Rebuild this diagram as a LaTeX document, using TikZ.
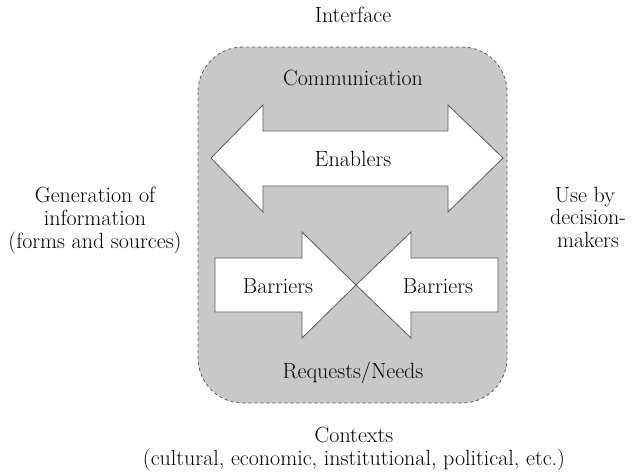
\documentclass[tikz,border=0pt]{standalone}
\usepackage{fontspec}
\definecolor{boxgray}{RGB}{200,200,200}
\definecolor{edgegray}{RGB}{90,90,90}
\begin{document}
\begin{tikzpicture}[x=1pt,y=1pt,
  lbl/.style={font=\fontsize{22}{23}\selectfont, inner sep=0pt, anchor=base, text=black},
  arrowshape/.style={fill=white, draw=edgegray, line width=0.8pt, line join=miter}]
\useasboundingbox (0,0) rectangle (633,-472);
\draw[fill=boxgray, draw=edgegray, dashed, line width=0.8pt, rounded corners=45pt]
  (198,-47) rectangle (507,-403);
\draw[arrowshape] (211,-158) -- (263,-105) -- (263,-131) -- (448,-131) -- (448,-105)
  -- (503,-158) -- (448,-212) -- (448,-186) -- (263,-186) -- (263,-212) -- cycle;
\draw[arrowshape] (215,-258) -- (302,-258) -- (302,-232) -- (356,-285) -- (302,-338)
  -- (302,-312) -- (215,-312) -- cycle;
\draw[arrowshape] (498,-258) -- (411,-258) -- (411,-232) -- (356,-285) -- (411,-338)
  -- (411,-312) -- (498,-312) -- cycle;
\node[lbl] (interface) at (353,-22) {Interface};
\node[lbl] (comm) at (353,-85) {Communication};
\node[lbl] (enab) at (353,-166) {Enablers};
\node[lbl] (barl) at (278,-293) {Barriers};
\node[lbl] (barr) at (438,-293) {Barriers};
\node[lbl] (req) at (353,-378) {Requests/Needs};
\node[lbl] (gen1) at (95,-202) {Generation of};
\node[lbl] (gen2) at (95,-225) {information};
\node[lbl] (gen3) at (95,-248) {(forms and sources)};
\node[lbl] (use1) at (585,-202) {Use by};
\node[lbl] (use2) at (588,-224) {decision-};
\node[lbl] (use3) at (588,-247) {makers};
\node[lbl] (ctx1) at (354,-442) {Contexts};
\node[lbl] (ctx2) at (354,-465) {(cultural, economic, institutional, political, etc.)};
\end{tikzpicture}
\end{document}
